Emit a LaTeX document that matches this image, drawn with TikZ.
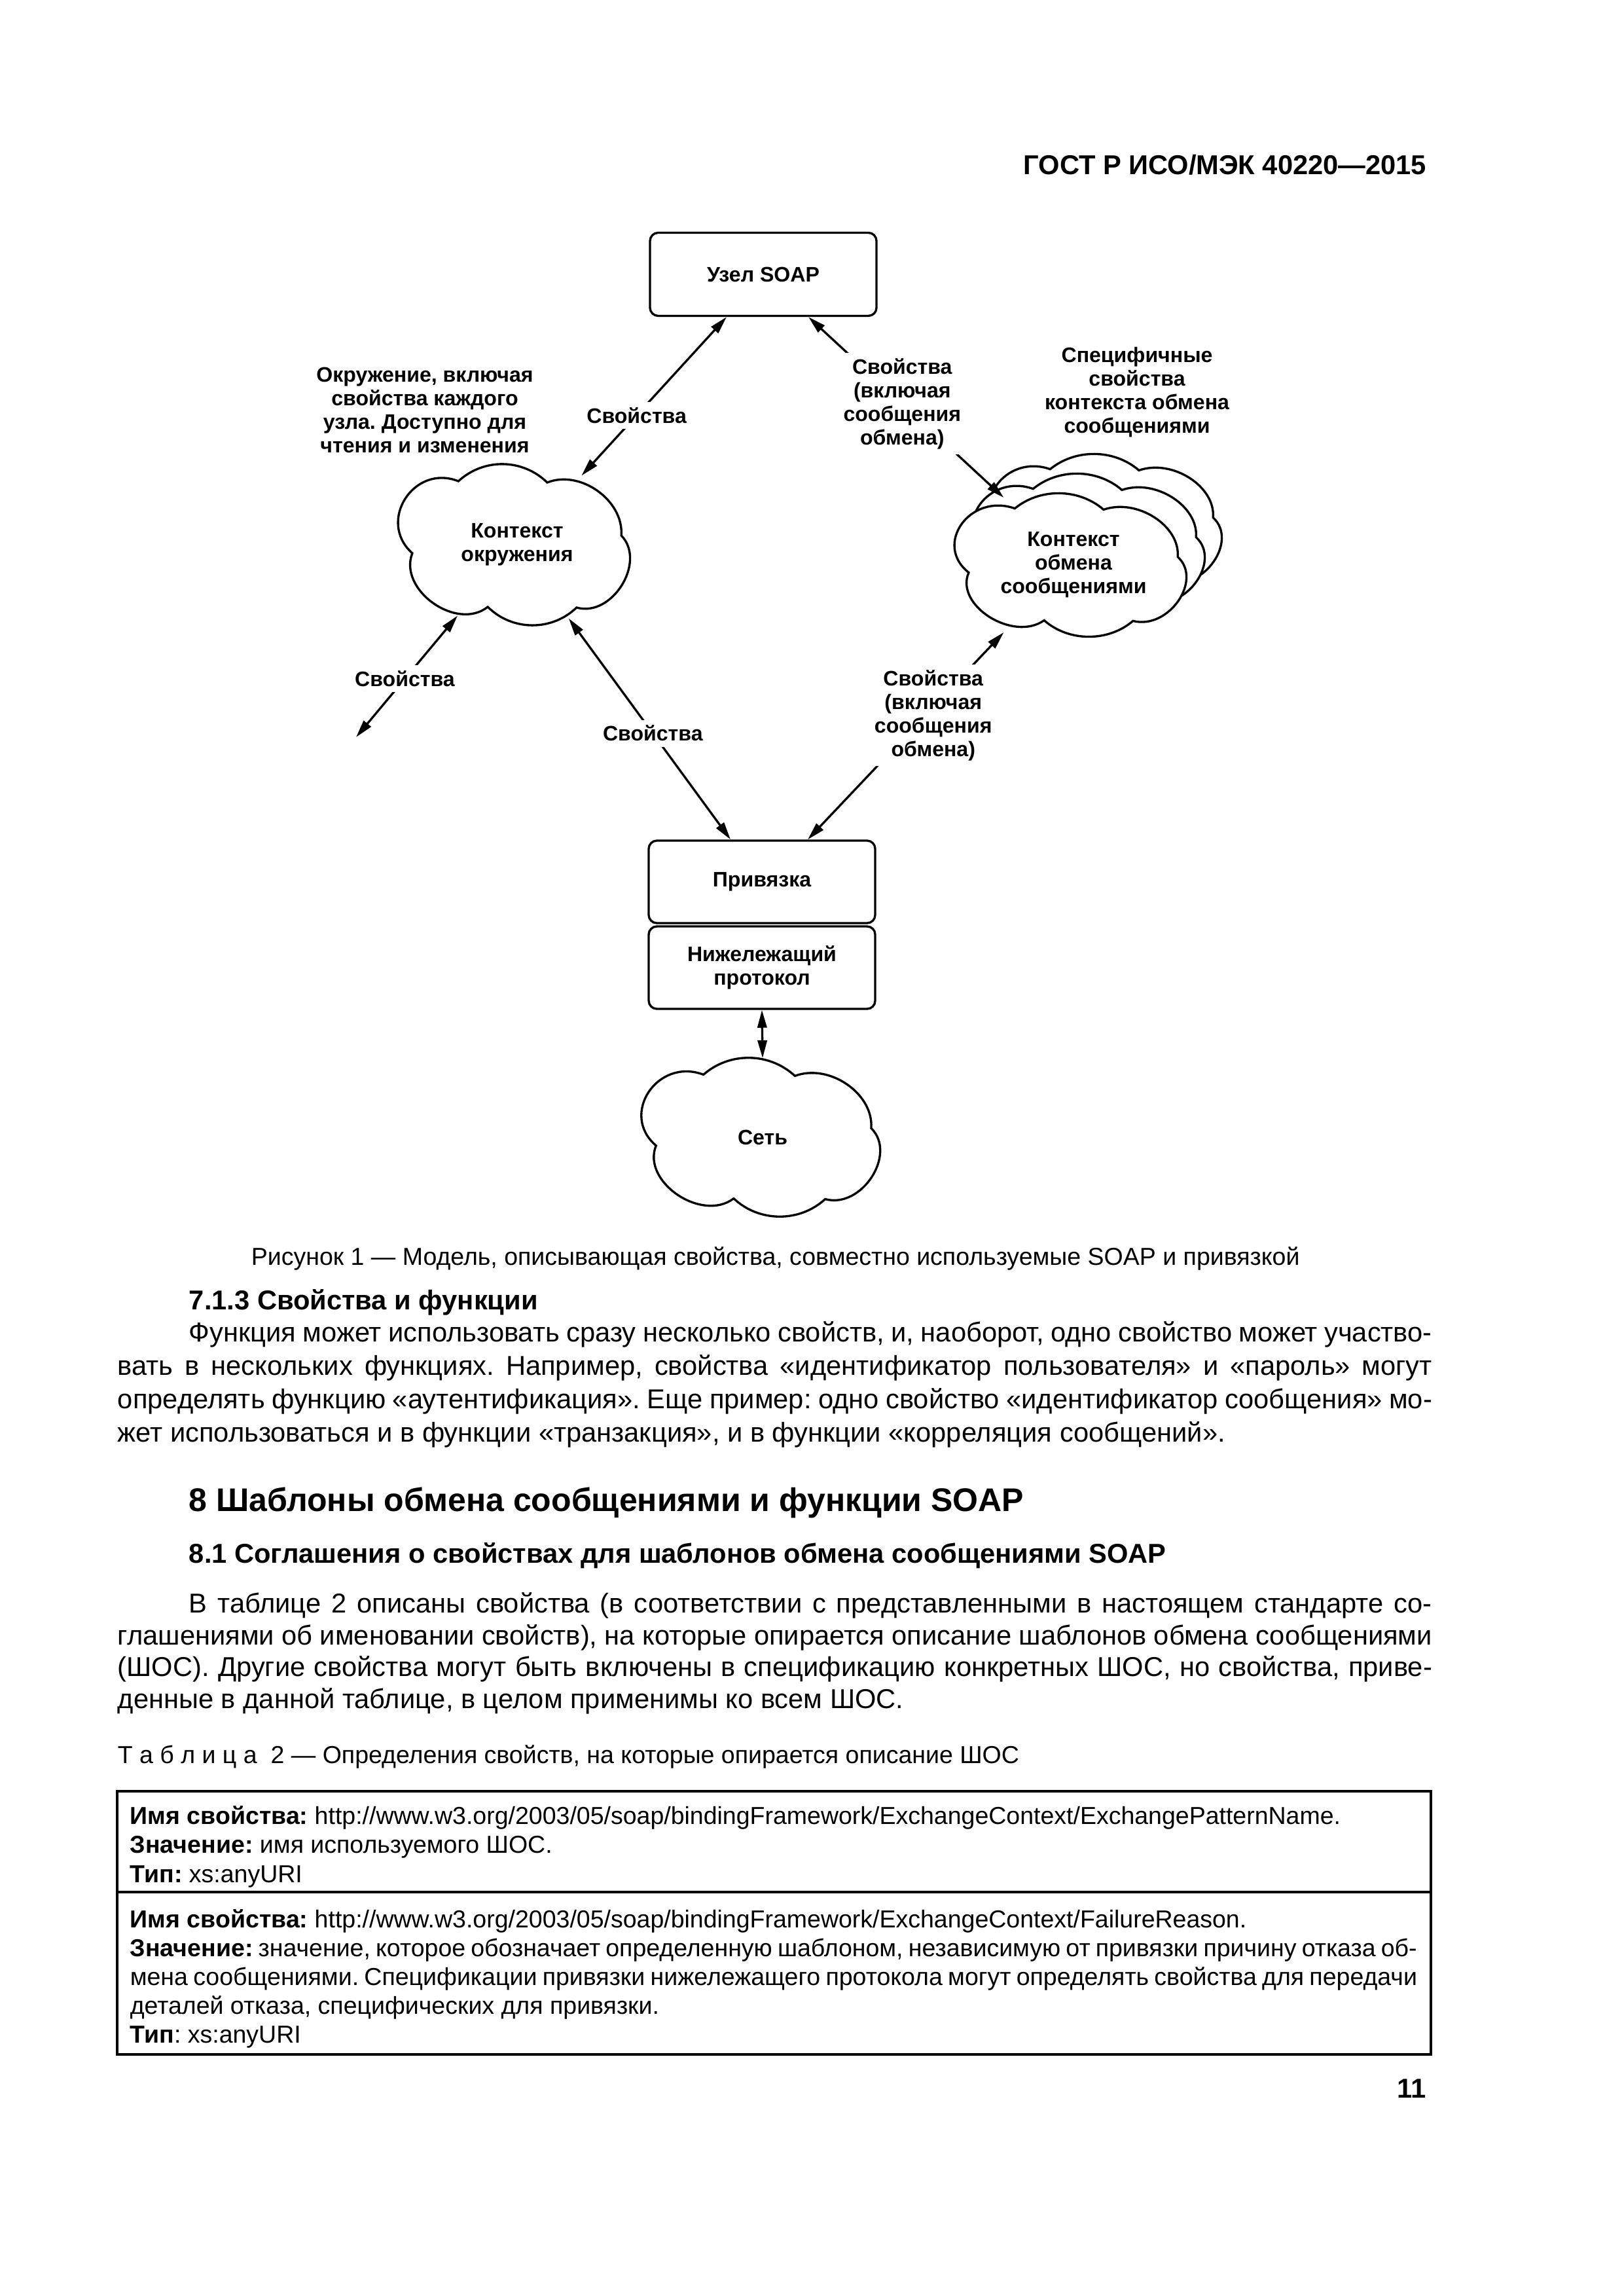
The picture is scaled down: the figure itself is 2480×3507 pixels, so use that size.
\documentclass[tikz,border=0pt]{standalone}
\usepackage{fontspec}
\setmainfont{Liberation Sans}
\usetikzlibrary{shapes.geometric,arrows.meta,calc}
\newdimen\pxu \pxu=0.24pt
\frenchspacing
\newcommand{\cloudoutline}[3]{%
  \draw[cloudline, shift={#1}, xscale=#2, yscale=#3]
    (-86,-97) to[bend left=44] (47,-95) to[bend left=58] (158,-14)
    to[bend left=75, looseness=1.1] (91,96) to[bend left=45] (-42,95)
    to[bend left=75, looseness=1.1] (-155,13) to[bend left=80, looseness=1.42] (-86,-97) -- cycle;}
\begin{document}
\begin{tikzpicture}[x=0.24pt,y=-0.24pt,
  dtext/.style={font=\fontsize{7.7}{8.64}\selectfont\bfseries, align=center},
  box/.style={draw, rounded corners=3pt, line width=0.8pt, minimum width=346\pxu, inner sep=0pt, dtext},
  cloudline/.style={draw, fill=white, line width=0.8pt},
  cld/.style={ellipse, inner sep=0pt, dtext},
  lbl/.style={dtext, fill=white, inner sep=2pt},
  arr/.style={line width=0.8pt, {Triangle[length=6.5pt,width=3.4pt]}-{Triangle[length=6.5pt,width=3.4pt]}},
  body/.style={font=\fontsize{10}{12}\selectfont, inner sep=0pt, anchor=base west},
  tab/.style={font=\fontsize{9}{11}\selectfont, inner sep=0pt, anchor=base west},
  capt/.style={font=\fontsize{9}{11}\selectfont, inner sep=0pt, anchor=base west},
  hd/.style={font=\fontsize{10}{12}\selectfont\bfseries, inner sep=0pt, anchor=base west},
  hdbig/.style={font=\fontsize{12}{14}\selectfont\bfseries, inner sep=0pt, anchor=base west}]
\path[fill=white] (0,0) rectangle (2480,3507);
\useasboundingbox (0,0) rectangle (2480,3507);

% header
\node[hd, anchor=base east] (hdr) at (2180,267) {ГОСТ Р ИСО/МЭК 40220—2015};

% diagram boxes
\node[box, minimum height=127\pxu] (soap) at (1166,419) {Узел SOAP};
\node[box, minimum height=126\pxu] (bind) at (1164,1347) {Привязка};
\node[box, minimum height=126\pxu] (proto) at (1164,1478) {Нижележащий\\протокол};

% cloud outlines
\cloudoutline{(788,832)}{1.02}{1}
\cloudoutline{(1692,803)}{1.02}{0.89}
\cloudoutline{(1666,833)}{1.02}{0.89}
\cloudoutline{(1638,863)}{1.02}{0.89}
\cloudoutline{(1165,1737)}{1.05}{0.985}

% cloud nodes (text and anchors)
\node[cld, minimum width=374\pxu, minimum height=246\pxu] (env) at (790,832) {Контекст\\окружения};
\node[cld, minimum width=404\pxu, minimum height=240\pxu] (msg) at (1640,863) {Контекст\\обмена\\сообщениями};
\node[cld, minimum width=380\pxu, minimum height=240\pxu] (net) at (1165,1737) {Сеть};

% free labels
\node[dtext] (envlbl) at (649,626) {Окружение, включая\\свойства каждого\\узла. Доступно для\\чтения и изменения};
\node[dtext] (speclbl) at (1737,599) {Специфичные\\свойства\\контекста обмена\\сообщениями};
\coordinate (free) at (544,1126);

% connectors
\draw[arr] (env.47) -- node[lbl, pos=.38] (l1) {Свойства} ($(soap.south)+(-56,0)$);
\draw[arr] ($(soap.south)+(69,0)$) -- node[lbl, pos=.48] (l2) {Свойства\\(включая\\сообщения\\обмена)} (msg.136.6);
\draw[arr] (env.230) -- node[lbl, pos=.52] (l3) {Свойства} (free);
\draw[arr] (env.305) -- node[lbl, pos=.52] (l4) {Свойства} ($(bind.north)+(-48,0)$);
\draw[arr] (msg.224) -- node[lbl, pos=.4, xshift=12\pxu] (l5) {Свойства\\(включая\\сообщения\\обмена)} ($(bind.north)+(70,0)$);
\draw[arr] (proto.south) -- (net.north);

% caption
\node[capt] (cap) at (383,1932) {Рисунок 1 — Модель, описывающая свойства, совместно используемые SOAP и привязкой};

% 7.1.3
\node[hd] (h713) at (288,2000) {7.1.3 Свойства и функции};
\node[body] (p1a) at (288,2049) {\makebox[455.76pt][s]{Функция может использовать сразу несколько свойств, и, наоборот, одно свойство может участво-}};
\node[body] (p1b) at (179,2100) {\makebox[481.92pt][s]{вать в нескольких функциях. Например, свойства «идентификатор пользователя» и «пароль» могут}};
\node[body] (p1c) at (179,2151) {\makebox[481.92pt][s]{определять функцию «аутентификация». Еще пример: одно свойство «идентификатор сообщения» мо-}};
\node[body] (p1d) at (179,2202) {жет использоваться и в функции «транзакция», и в функции «корреляция сообщений».};

% 8
\node[hdbig] (h8) at (288,2308) {8 Шаблоны обмена сообщениями и функции SOAP};
\node[hd] (h81) at (288,2387) {8.1 Соглашения о свойствах для шаблонов обмена сообщениями SOAP};
\node[body] (p2a) at (288,2463) {\makebox[455.76pt][s]{В таблице 2 описаны свойства (в соответствии с представленными в настоящем стандарте со-}};
\node[body] (p2b) at (179,2512) {\makebox[481.92pt][s]{глашениями об именовании свойств), на которые опирается описание шаблонов обмена сообщениями}};
\node[body] (p2c) at (179,2560) {\makebox[481.92pt][s]{(ШОС). Другие свойства могут быть включены в спецификацию конкретных ШОС, но свойства, приве-}};
\node[body] (p2d) at (179,2609) {денные в данной таблице, в целом применимы ко всем ШОС.};

% table caption
\node[capt] (tcap) at (179,2693) {Т а б л и ц а\ \ 2 — Определения свойств, на которые опирается описание ШОС};

% table
\draw[line width=0.9pt] (179,2736) rectangle (2186,3138);
\draw[line width=0.9pt] (179,2890) -- (2186,2890);
\node[tab] (r1a) at (198,2786) {\textbf{Имя свойства:} http://www.w3.org/2003/05/soap/bindingFramework/ExchangeContext/ExchangePatternName.};
\node[tab] (r1b) at (198,2830) {\textbf{Значение:} имя используемого ШОС.};
\node[tab] (r1c) at (198,2875) {\textbf{Тип:} xs:anyURI};
\node[tab] (r2a) at (198,2944) {\textbf{Имя свойства:} http://www.w3.org/2003/05/soap/bindingFramework/ExchangeContext/FailureReason.};
\node[tab] (r2b) at (198,2988) {\makebox[471.84pt][s]{\textbf{Значение:} значение, которое обозначает определенную шаблоном, независимую от привязки причину отказа об-}};
\node[tab] (r2c) at (198,3032) {\makebox[471.84pt][s]{мена сообщениями. Спецификации привязки нижележащего протокола могут определять свойства для передачи}};
\node[tab] (r2d) at (198,3076) {деталей отказа, специфических для привязки.};
\node[tab] (r2e) at (198,3120) {\textbf{Тип}: xs:anyURI};

% page number
\node[hd, anchor=base east] (pg) at (2179,3204) {11};
\end{tikzpicture}
\end{document}
